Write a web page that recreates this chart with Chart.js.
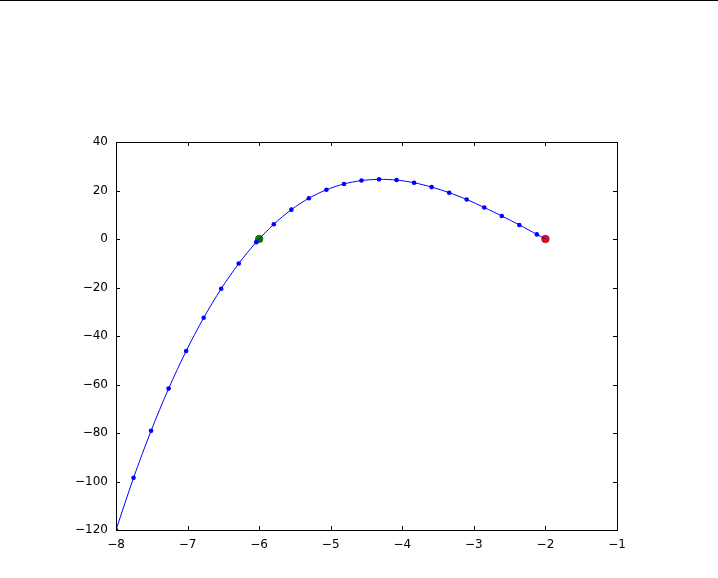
<!DOCTYPE html>
<html>
<head>
<meta charset="utf-8">
<script src="https://cdn.jsdelivr.net/npm/chart.js@4"></script>
<style>
    html, body { margin: 0; padding: 0; background: #fff; }
    #wrap { width: 718px; height: 578px; }
</style>
</head>
<body>
<div id="wrap"><canvas id="chart"></canvas></div>
<script>
const xValues = [-8, -7.755, -7.51, -7.265, -7.02, -6.775, -6.53, -6.285, -6.04, -5.795,
    -5.55, -5.305, -5.06, -4.815, -4.57, -4.325, -4.08, -3.835, -3.59, -3.345,
    -3.1, -2.855, -2.61, -2.365, -2.12];
const yValues = [-120, -98.5, -79.1, -61.7, -46.2, -32.5, -20.5, -10.1, -1.3, 6.1,
    12.1, 16.8, 20.3, 22.7, 24.1, 24.6, 24.3, 23.2, 21.4, 19.1,
    16.3, 13.0, 9.5, 5.8, 1.9];
// Start (green) and end (red) points
const startPoint = [-6, 0];
const endPoint = [-2, 0];
// Axis ranges / ticks
const xTicks = [-8, -7, -6, -5, -4, -3, -2, -1];
const yTicks = [-120, -100, -80, -60, -40, -20, 0, 20, 40];

Chart.defaults.font.family = "'DejaVu Sans', sans-serif";
Chart.defaults.font.size = 12;
Chart.defaults.color = '#000';

const samples = xValues.map((x, i) => ({ x: x, y: yValues[i] }));
const curve = samples.concat([{ x: endPoint[0], y: endPoint[1] }]);

const minus = v => (v < 0 ? '\u2212' + Math.abs(v) : String(v));

// matplotlib-like frame with inward ticks on all four sides
const framePlugin = {
    id: 'frame',
    beforeDraw(chart) {
        const ctx = chart.ctx;
        ctx.save();
        ctx.fillStyle = '#000';
        ctx.fillRect(0, 0, chart.width, 1);
        ctx.restore();
    },
    afterDraw(chart) {
        const { ctx, chartArea: a, scales } = chart;
        ctx.save();
        ctx.strokeStyle = '#000';
        ctx.lineWidth = 1;
        ctx.beginPath();
        scales.x.ticks.forEach(t => {
            const px = Math.round(scales.x.getPixelForValue(t.value)) + 0.5;
            ctx.moveTo(px, a.bottom); ctx.lineTo(px, a.bottom - 4);
            ctx.moveTo(px, a.top); ctx.lineTo(px, a.top + 4);
        });
        scales.y.ticks.forEach(t => {
            const py = Math.round(scales.y.getPixelForValue(t.value)) + 0.5;
            ctx.moveTo(a.left, py); ctx.lineTo(a.left + 4, py);
            ctx.moveTo(a.right, py); ctx.lineTo(a.right - 4, py);
        });
        ctx.stroke();
        ctx.strokeRect(Math.round(a.left) + 0.5, Math.round(a.top) + 0.5,
            Math.round(a.right - a.left), Math.round(a.bottom - a.top));
        ctx.restore();
    }
};

new Chart(document.getElementById('chart'), {
    type: 'scatter',
    data: {
        datasets: [
            {
                data: curve,
                showLine: true,
                borderColor: '#0000ff',
                borderWidth: 1,
                tension: 0.3,
                pointRadius: 0,
                fill: false
            },
            {
                data: samples,
                showLine: false,
                pointRadius: 2.3,
                pointBackgroundColor: '#0000ff',
                pointBorderColor: '#0000ff',
                pointBorderWidth: 0
            },
            {
                data: [{ x: startPoint[0], y: startPoint[1] }],
                pointRadius: 3.8,
                pointBackgroundColor: '#008000',
                pointBorderColor: '#1a3a1a',
                pointBorderWidth: 0.6
            },
            {
                data: [{ x: endPoint[0], y: endPoint[1] }],
                pointRadius: 3.8,
                pointBackgroundColor: '#ff0000',
                pointBorderColor: '#5a1a1a',
                pointBorderWidth: 0.6
            }
        ]
    },
    options: {
        responsive: true,
        maintainAspectRatio: false,
        animation: false,
        layout: { padding: { left: 0, top: 142, right: 101, bottom: 0 } },
        plugins: { legend: { display: false }, tooltip: { enabled: false } },
        scales: {
            x: {
                type: 'linear',
                min: xTicks[0],
                max: xTicks[xTicks.length - 1],
                grid: { display: false },
                border: { display: false },
                afterBuildTicks: s => { s.ticks = xTicks.map(v => ({ value: v })); },
                afterFit: s => { s.height = 48; },
                ticks: { padding: 0, maxRotation: 0, callback: minus }
            },
            y: {
                type: 'linear',
                min: yTicks[0],
                max: yTicks[yTicks.length - 1],
                grid: { display: false },
                border: { display: false },
                afterBuildTicks: s => { s.ticks = yTicks.map(v => ({ value: v })); },
                afterFit: s => { s.width = 116; },
                ticks: { padding: 0, callback: minus }
            }
        }
    },
    plugins: [framePlugin]
});
</script>
</body>
</html>
